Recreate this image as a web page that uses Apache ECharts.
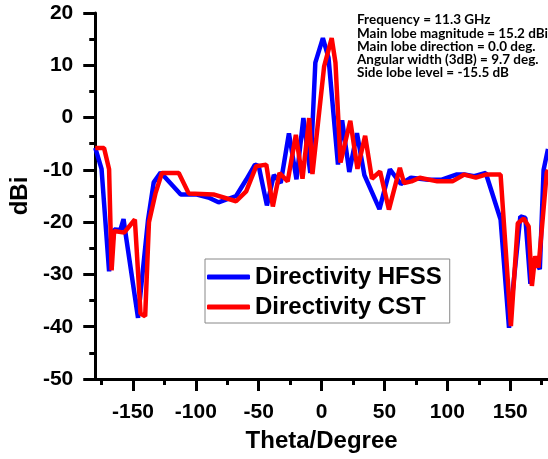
<!DOCTYPE html>
<html>
<head>
<meta charset="utf-8">
<script src="https://cdn.jsdelivr.net/npm/echarts@6/dist/echarts.min.js"></script>
<style>
  html, body { margin: 0; padding: 0; background: #fff; }
  #chart { width: 548px; height: 459px; }
</style>
</head>
<body>
<div id="chart"></div>
<script>
// Radiation pattern: theta (degrees) and directivity (dBi) for each solver
const hfssTheta = [-180, -175, -169, -165, -160, -157.5, -156, -146, -138, -133.5, -128, -112, -100, -90, -82, -68, -60, -53, -50, -43.5, -38, -32.5, -26, -20, -14.5, -9, -5, 1, 5.5, 13, 16.3, 22, 28.1, 34, 46, 54.3, 63, 71, 85, 95, 107, 113.4, 121.3, 130.5, 142.3, 149, 158, 162, 166, 169, 173.5, 176.5, 180];
const hfssDbi   = [-5.8, -9.8, -29.4, -21.4, -21.5, -19.4, -22, -38.3, -19.5, -12.4, -10.5, -14.7, -14.7, -15.3, -16.2, -15, -11.9, -9, -9.3, -16.8, -11, -12.5, -3, -11.8, -0.1, -10.6, 10.5, 15.2, 11.4, -9, -0.5, -10.4, -3, -11, -17.5, -9.9, -12.7, -11.5, -11.9, -11.9, -10.9, -10.9, -11.2, -10.6, -19.5, -40.2, -18.9, -19.2, -31.8, -27, -29, -10, -6];

const cstTheta = [-180, -173, -169, -167, -165, -157, -148.5, -144, -140.3, -137.3, -132, -127, -113.6, -105.7, -86, -68, -60, -52, -44, -38.8, -33.5, -27, -20.5, -15.2, -9.9, -7.3, 2, 8, 11, 15, 22.8, 28.5, 34.6, 40, 46.5, 53.5, 62.2, 65.5, 71.4, 78, 92, 104, 113.4, 122.6, 130.5, 142.3, 150.5, 156, 160.7, 164.6, 167.2, 169.8, 172.4, 179, 180];
const cstDbi   = [-5.8, -5.8, -9.9, -29.2, -21.7, -22, -19.5, -37.5, -38, -20, -14.4, -10.6, -10.6, -14.5, -14.7, -16, -14.1, -9.3, -9, -17, -10.6, -12.2, -3.3, -11.7, -0.1, -10.8, 9.8, 15.2, 10.5, -8.6, -0.6, -9.8, -3.5, -11.7, -10.3, -17.6, -9.6, -12.5, -12.2, -11.5, -12.2, -12.2, -10.9, -11.5, -10.9, -10.9, -39.9, -20.2, -19.3, -20.8, -32.2, -26.5, -28.7, -10.5, -10];

const xMajorTicks = [-150, -100, -50, 0, 50, 100, 150];
const xMinorTicks = [-175, -125, -75, -25, 25, 75, 125, 175];

const infoLines = [
  'Frequency = 11.3 GHz',
  'Main lobe magnitude = 15.2 dBi',
  'Main lobe direction = 0.0 deg.',
  'Angular width (3dB) = 9.7 deg.',
  'Side lobe level = -15.5 dB'
];

const pairs = (xs, ys) => xs.map((x, i) => [x, ys[i]]);

const axisFont = { fontFamily: '"Liberation Sans", Arial, sans-serif', fontWeight: 'bold', color: '#000' };

const chart = echarts.init(document.getElementById('chart'), null, { renderer: 'canvas' });
chart.setOption({
  animation: false,
  backgroundColor: '#fff',
  grid: { left: 90, right: 0, top: 13, bottom: 80, containLabel: false },
  xAxis: [
    {
      type: 'value', position: 'bottom', min: -180, max: 180,
      name: 'Theta/Degree', nameLocation: 'middle', nameGap: 50,
      nameTextStyle: Object.assign({ fontSize: 24 }, axisFont),
      axisLine: { show: true, onZero: false, lineStyle: { color: '#000', width: 3 } },
      axisTick: { show: true, customValues: xMajorTicks, length: 12, lineStyle: { color: '#000', width: 3 } },
      axisLabel: Object.assign({ show: true, customValues: xMajorTicks, fontSize: 21, margin: 23 }, axisFont),
      splitLine: { show: false }
    },
    {
      type: 'value', position: 'bottom', min: -180, max: 180,
      axisLine: { show: false, onZero: false },
      axisTick: { show: true, customValues: xMinorTicks, length: 6, lineStyle: { color: '#000', width: 3 } },
      axisLabel: { show: false },
      splitLine: { show: false }
    }
  ],
  yAxis: {
    type: 'value', min: -50, max: 20, interval: 10,
    name: 'dBi', nameLocation: 'middle', nameGap: 56, nameRotate: 90,
    nameTextStyle: Object.assign({ fontSize: 24 }, axisFont),
    axisLine: { show: true, onZero: false, lineStyle: { color: '#000', width: 3 } },
    axisTick: { show: true, length: 12, lineStyle: { color: '#000', width: 3 } },
    minorTick: { show: true, splitNumber: 2, length: 6, lineStyle: { color: '#000', width: 3 } },
    axisLabel: Object.assign({ fontSize: 21, margin: 22 }, axisFont),
    splitLine: { show: false }
  },
  legend: {
    orient: 'vertical', left: 205, top: 259,
    padding: [6, 8, 4, 2], itemGap: 6,
    itemWidth: 43, itemHeight: 5, icon: 'roundRect',
    borderColor: '#888', borderWidth: 1, backgroundColor: '#fff',
    textStyle: Object.assign({ fontSize: 24 }, axisFont),
    data: ['Directivity HFSS', 'Directivity CST']
  },
  graphic: [{
    type: 'text', left: 357, top: 13,
    style: {
      text: infoLines.join('\n'),
      font: 'bold 13.5px Lato, "Open Sans", sans-serif',
      lineHeight: 13.2,
      fill: '#000'
    }
  }],
  series: [
    {
      name: 'Directivity HFSS', type: 'line', xAxisIndex: 0,
      data: pairs(hfssTheta, hfssDbi),
      showSymbol: false, symbol: 'none',
      lineStyle: { color: '#0000ff', width: 4.5 },
      itemStyle: { color: '#0000ff' }
    },
    {
      name: 'Directivity CST', type: 'line', xAxisIndex: 0,
      data: pairs(cstTheta, cstDbi),
      showSymbol: false, symbol: 'none',
      lineStyle: { color: '#ff0000', width: 4.5 },
      itemStyle: { color: '#ff0000' }
    }
  ]
});
</script>
</body>
</html>
